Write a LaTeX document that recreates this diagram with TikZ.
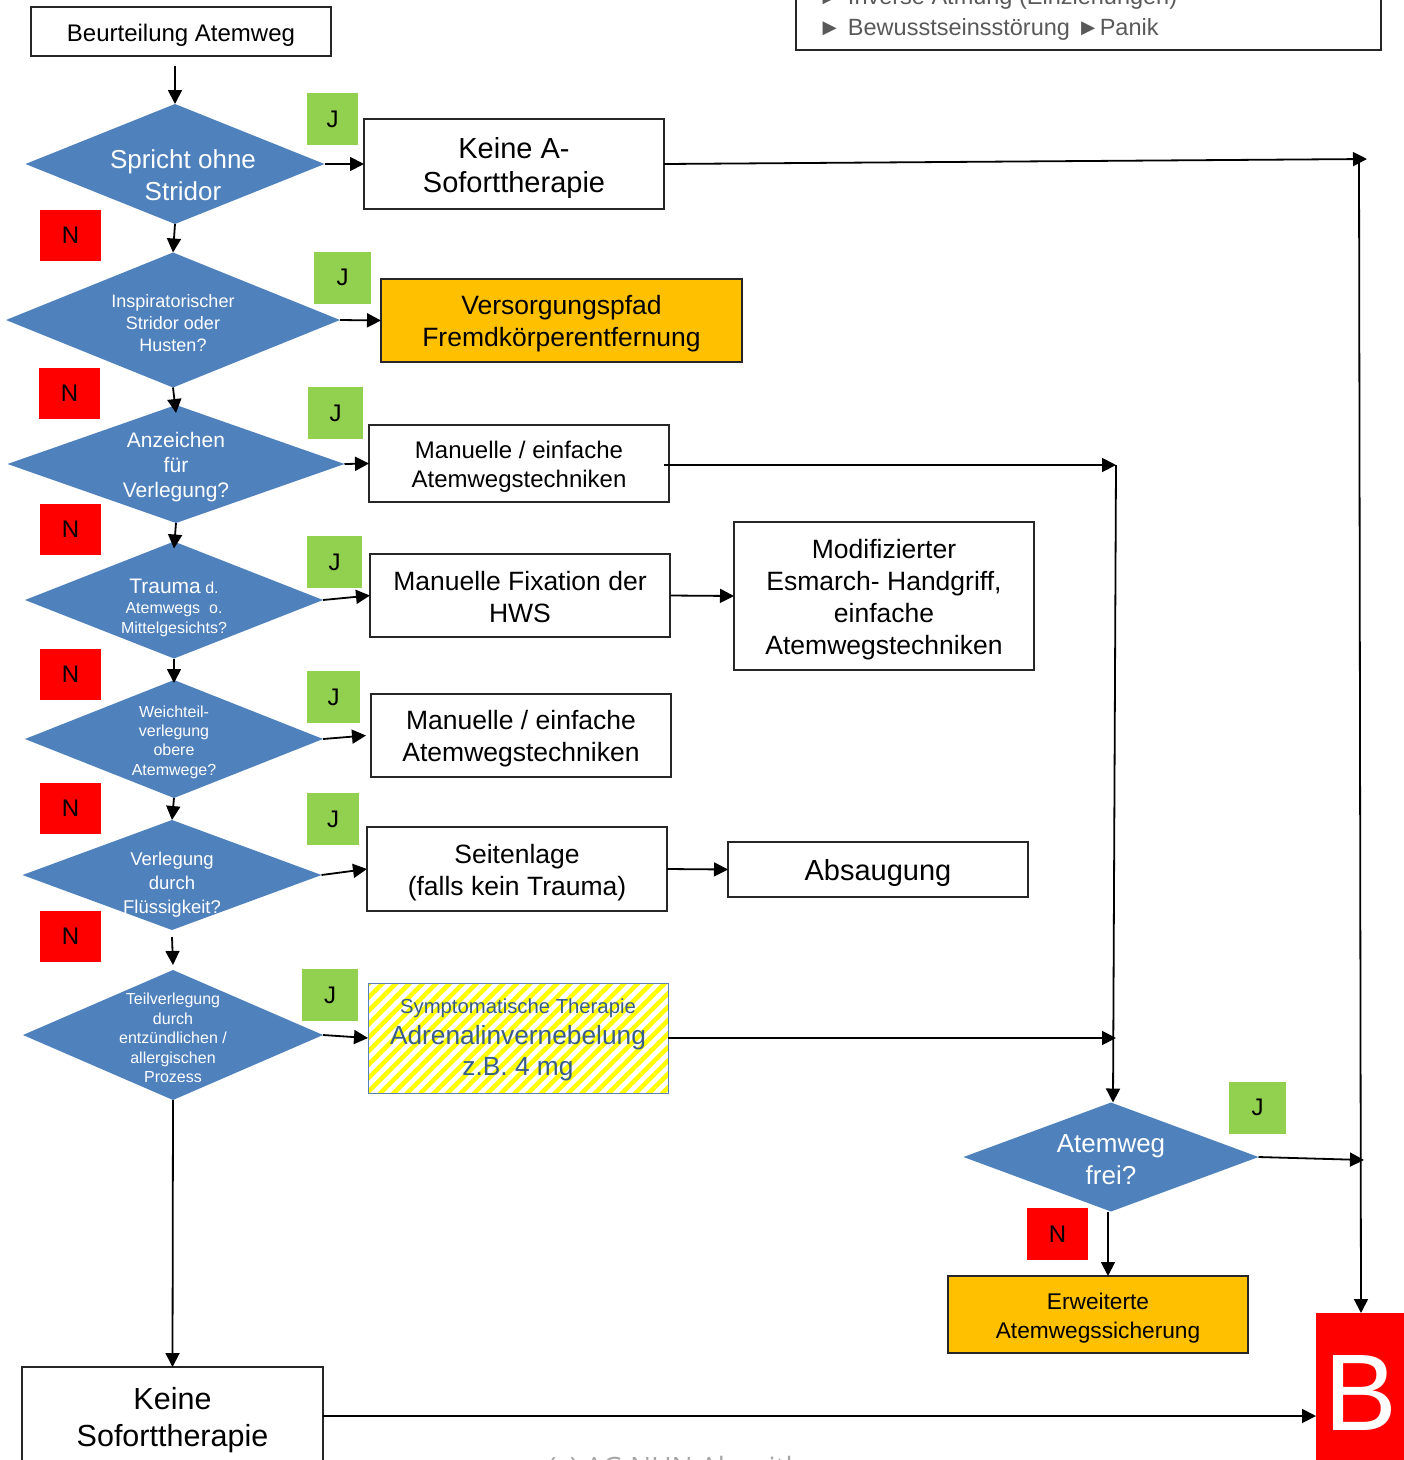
\documentclass[tikz,border=0pt]{standalone}
\usepackage{fontspec}
\setmainfont{Liberation Sans}
\newfontfamily\notefont{Open Sans}
\usetikzlibrary{shapes.geometric,arrows.meta,patterns.meta}
\definecolor{dblue}{HTML}{4F81BD}
\definecolor{jgreen}{HTML}{92D050}
\definecolor{nred}{HTML}{FF0000}
\definecolor{orangebox}{HTML}{FFC000}
\definecolor{boxline}{HTML}{262626}
\definecolor{hatchline}{HTML}{5B7FB5}
\definecolor{hatchtext}{HTML}{385D8A}
\definecolor{notegray}{HTML}{595959}
\newcommand\setfs[2]{\fontsize{#1}{#2}\selectfont}
\tikzset{
  box/.style={draw=boxline, line width=1.4pt, fill=white, inner sep=0pt, outer sep=0pt},
  obox/.style={box, fill=orangebox},
  btext/.style={align=center, inner sep=0pt, yshift=-3.5pt},
  dia/.style={diamond, fill=dblue, inner sep=0pt, outer sep=0pt},
  dtext/.style={text=white, align=center, inner sep=0pt, yshift=-3pt},
  jlab/.style={fill=jgreen, minimum width=55pt, minimum height=52pt, inner sep=0pt, font=\setfs{24}{28}},
  nlab/.style={fill=nred, minimum width=61pt, minimum height=51pt, inner sep=0pt, font=\setfs{24}{28}},
  conn/.style={line width=1.8pt, -{Triangle[length=14pt,width=14pt]}},
}
\begin{document}
\begin{tikzpicture}[x=1pt, y=-1pt]
\useasboundingbox (0,0) rectangle (1404,1460);

% note box at the top right
\node[draw=boxline, line width=1.6pt, minimum width=585pt, minimum height=90pt, inner sep=0pt, outer sep=0pt] (note) at (1088.5,5) {};
\node[anchor=base west, inner sep=0pt, text=notegray, font=\setfs{23.5}{28}] (note1) at (818,4) {► Inverse Atmung (Einziehungen)};
\node[anchor=base west, inner sep=0pt, text=notegray, font=\setfs{23.5}{28}] (note2) at (818,35) {► Bewusstseinsstörung ►Panik};

% start
\node[box, minimum width=300pt, minimum height=49pt,
  label={[btext, font=\setfs{24}{28}]center:Beurteilung Atemweg}] (start) at (181,31.5) {};

% decision column
\node[dia, minimum width=299pt, minimum height=120pt,
  label={[dtext, font=\setfs{26}{32}, xshift=8pt, yshift=-8pt]center:Spricht ohne\\Stridor}] (d1) at (175,164) {};
\node[dia, minimum width=334pt, minimum height=135pt,
  label={[dtext, font=\setfs{18}{22}]center:Inspiratorischer\\Stridor oder\\Husten?}] (d2) at (173,320) {};
\node[dia, minimum width=337pt, minimum height=118pt,
  label={[dtext, font=\setfs{21}{25}]center:Anzeichen\\für\\Verlegung?}] (d3) at (176,464) {};
\node[dia, minimum width=298pt, minimum height=117pt,
  label={[dtext, font=\setfs{16}{20}, yshift=-5pt]center:{\setfs{21}{22}Trauma} d.\\Atemwegs~~o.\\Mittelgesichts?}] (d4) at (174,600) {};
\node[dia, minimum width=298pt, minimum height=118pt,
  label={[dtext, font=\setfs{16}{19.4}]center:Weichteil-\\verlegung\\obere\\Atemwege?}] (d5) at (174,739) {};
\node[dia, minimum width=299pt, minimum height=110pt,
  label={[dtext, font=\setfs{18.5}{24}, yshift=-7pt]center:Verlegung\\durch\\Flüssigkeit?}] (d6) at (172,875) {};
\node[dia, minimum width=300pt, minimum height=130pt,
  label={[dtext, font=\setfs{16}{19.5}]center:Teilverlegung\\durch\\entzündlichen /\\allergischen\\Prozess}] (d7) at (173,1035) {};
\node[dia, minimum width=295pt, minimum height=109pt,
  label={[dtext, font=\setfs{26}{32}]center:Atemweg\\frei?}] (d8) at (1111,1157) {};

% action boxes
\node[box, minimum width=300pt, minimum height=90pt,
  label={[btext, font=\setfs{29}{34}]center:Keine A-\\Soforttherapie}] (b1) at (514,164) {};
\node[obox, minimum width=361pt, minimum height=83pt,
  label={[btext, font=\setfs{26.5}{32}]center:Versorgungspfad\\Fremdkörperentfernung}] (b2) at (561.5,320.5) {};
\node[box, minimum width=300pt, minimum height=77pt,
  label={[btext, font=\setfs{24}{29}]center:Manuelle / einfache\\Atemwegstechniken}] (b3) at (519,463.5) {};
\node[box, minimum width=300pt, minimum height=83pt,
  label={[btext, font=\setfs{26.5}{32}, yshift=1.5pt]center:Manuelle Fixation der\\HWS}] (b4) at (520,595.5) {};
\node[box, minimum width=300pt, minimum height=148pt,
  label={[btext, font=\setfs{26.5}{32}]center:Modifizierter\\Esmarch- Handgriff,\\einfache\\Atemwegstechniken}] (b5) at (884,596) {};
\node[box, minimum width=300pt, minimum height=83pt,
  label={[btext, font=\setfs{26.5}{32}]center:Manuelle / einfache\\Atemwegstechniken}] (b6) at (521,735.5) {};
\node[box, minimum width=300pt, minimum height=84pt,
  label={[btext, font=\setfs{26.5}{32}]center:Seitenlage\\(falls kein Trauma)}] (b7) at (517,869) {};
\node[box, minimum width=300pt, minimum height=55pt,
  label={[btext, font=\setfs{29}{34}]center:Absaugung}] (b8) at (878,869.5) {};
\node[draw=hatchline, line width=1pt, preaction={fill=white},
  pattern={Lines[angle=45,distance=9.5pt,line width=4.5pt]}, pattern color=yellow,
  minimum width=300pt, minimum height=110pt, inner sep=0pt, outer sep=0pt,
  label={[btext, text=hatchtext, font=\setfs{26.3}{31}, yshift=1.5pt]center:{\setfs{20.3}{24}Symptomatische Therapie}\\Adrenalinvernebelung\\z.B. 4 mg}] (b9) at (518,1038) {};
\node[box, minimum width=301pt, minimum height=100pt,
  label={[btext, font=\setfs{30.5}{37}]center:Keine\\Soforttherapie}] (b10) at (172.5,1417) {};
\node[obox, minimum width=300pt, minimum height=77pt,
  label={[btext, font=\setfs{22.7}{29}]center:Erweiterte\\Atemwegssicherung}] (b11) at (1098,1314.5) {};
\node[fill=nred, minimum width=90pt, minimum height=160pt, inner sep=0pt, outer sep=0pt, text=white, font=\setfs{109}{109}] (B) at (1361,1393) {B};

% answer tags
\node[jlab, minimum width=51pt] (j1) at (332.5,119) {J};
\node[jlab, minimum width=57pt] (j2) at (342.5,277.5) {J};
\node[jlab] (j3) at (335.5,413) {J};
\node[jlab] (j4) at (334.5,562) {J};
\node[jlab, minimum width=53pt] (j5) at (333.5,697) {J};
\node[jlab, minimum width=52pt] (j6) at (333,819) {J};
\node[jlab, minimum width=56pt] (j7) at (330,995) {J};
\node[jlab, minimum width=57pt] (j8) at (1257.5,1107.5) {J};
\node[nlab] (n1) at (70.5,235.5) {N};
\node[nlab] (n2) at (69.5,393.5) {N};
\node[nlab] (n3) at (70.5,529.5) {N};
\node[nlab] (n4) at (70.5,674.5) {N};
\node[nlab] (n5) at (70.5,808.5) {N};
\node[nlab] (n6) at (70.5,936.5) {N};
\node[nlab, minimum height=52pt] (n8) at (1057.5,1234) {N};

% junction points on the right
\coordinate (r1) at (1367,159);
\coordinate (c3) at (1116,465);
\coordinate (c9) at (1116,1038);
\coordinate (c8) at (1364,1160);

% "no" chain
\draw[conn] ([yshift=-10pt]start.south -| d1.north) -- (d1.north);
\draw[conn] (d1.south) -- (d2.north);
\draw[conn] (d2.south) -- ([yshift=-8pt]d3.north);
\draw[conn] (d3.south) -- ([yshift=-7pt]d4.north);
\draw[conn] (d4.south) -- ([yshift=-3pt]d5.north);
\draw[conn] (d5.south) -- (d6.north);
\draw[conn] ([yshift=-7pt]d6.south) -- ([yshift=5pt]d7.north);
\draw[conn] (d7.south) -- (b10.north);

% "yes" branches
\draw[conn] (d1.east) -- (b1.west);
\draw[conn] (d2.east) -- (b2.west);
\draw[conn] (d3.east) -- (b3.west);
\draw[conn] (d4.east) -- (b4.west);
\draw[conn] (b4.east) -- (b5.west);
\draw[conn] (d5.east) -- ([xshift=-5pt]b6.west);
\draw[conn] (d6.east) -- (b7.west);
\draw[conn] (b7.east) -- (b8.west);
\draw[conn] (d7.east) -- (b9.west);

% right-hand collectors
\draw[conn] (b1.east) -- (r1);
\draw[conn] ([xshift=-5pt, yshift=-1.5pt]b3.east) -- (c3);
\draw[conn] (c3) -- ([xshift=2pt]d8.north);
\draw[conn] (b9.east) -- (c9);
\draw[conn] (d8.east) -- (c8);
\draw[conn] ([xshift=-8pt]r1) -- (B.north);
\draw[conn] ([xshift=-3pt]d8.south) -- ([xshift=-3pt]d8.south |- b11.north);
\draw[conn] (b10.east |- 0,1416) -- (B.west |- 0,1416);

% footer
\node[anchor=base west, inner sep=0pt, text=gray!70, font=\notefont\setfs{28}{32}] (foot) at (548,1477) {(c) AG NUN Algorithmus};
\end{tikzpicture}
\end{document}
